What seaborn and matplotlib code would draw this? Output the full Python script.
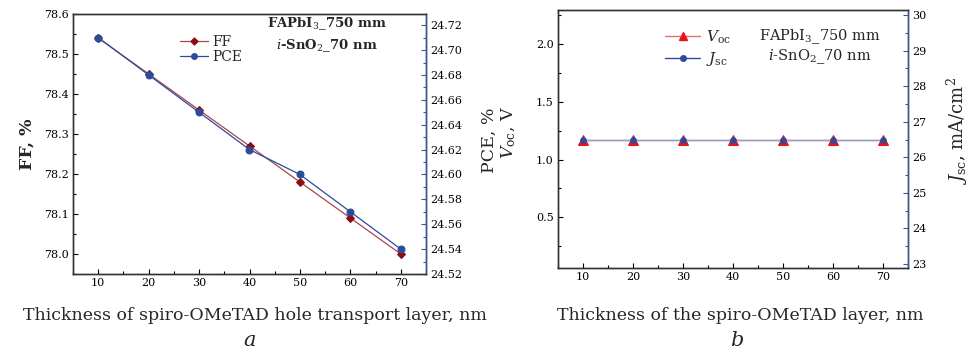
import numpy as np
import pandas as pd
import seaborn as sns
import matplotlib
matplotlib.use("Agg")
import matplotlib.pyplot as plt
from matplotlib.ticker import MultipleLocator, FormatStrFormatter
from matplotlib.lines import Line2D

sns.set_theme(style="ticks")
plt.rcParams['font.family'] = ['DejaVu Serif']
plt.rcParams['mathtext.fontset'] = 'dejavuserif'

thickness = [10, 20, 30, 40, 50, 60, 70]
ff = [78.54, 78.45, 78.36, 78.27, 78.18, 78.09, 78.00]
pce = [24.71, 24.68, 24.65, 24.62, 24.60, 24.57, 24.54]
voc = [1.17, 1.17, 1.17, 1.17, 1.17, 1.17, 1.17]
jsc = [26.5, 26.5, 26.5, 26.5, 26.5, 26.5, 26.5]

df = pd.DataFrame({"t": thickness, "FF": ff, "PCE": pce, "Voc": voc, "Jsc": jsc})

BLUE = "#2b4c9b"
DRED = "#8b0d14"
RED = "#e3141e"
SPINE_BLUE = "#3a55a0"

fig = plt.figure(figsize=(9.69, 3.53), dpi=100)
axA = fig.add_axes([73 / 969, 1 - 274 / 353, 353 / 969, 260 / 353])
axB = fig.add_axes([558 / 969, 1 - 268 / 353, 350 / 969, 258 / 353])

def style_ax(ax):
    ax.tick_params(direction="in", which="both", labelsize=8, length=3.5, width=0.8,
                   colors="black", pad=3)
    ax.tick_params(which="minor", length=2)
    for s in ax.spines.values():
        s.set_linewidth(1.0)
        s.set_color("#333333")

# Panel a
sns.lineplot(data=df, x="t", y="FF", ax=axA, color="#a84848", linewidth=0.9,
             marker="D", markersize=4.5, markerfacecolor=DRED, markeredgecolor=DRED, zorder=3)
axA2 = axA.twinx()
sns.lineplot(data=df, x="t", y="PCE", ax=axA2, color=BLUE, linewidth=0.9,
             marker="o", markersize=5, markerfacecolor=BLUE, markeredgecolor=BLUE, zorder=2)
axA.set_xlim(5, 75)
axA.set_ylim(77.95, 78.6)
axA2.set_ylim(24.52, 24.729)
axA.xaxis.set_major_locator(MultipleLocator(10))
axA.xaxis.set_minor_locator(MultipleLocator(5))
axA.yaxis.set_major_locator(MultipleLocator(0.1))
axA.yaxis.set_minor_locator(MultipleLocator(0.05))
axA.yaxis.set_major_formatter(FormatStrFormatter("%.1f"))
axA2.yaxis.set_major_locator(MultipleLocator(0.02))
axA2.yaxis.set_minor_locator(MultipleLocator(0.01))
axA2.yaxis.set_major_formatter(FormatStrFormatter("%.2f"))
style_ax(axA)
style_ax(axA2)
axA2.spines["right"].set_color(SPINE_BLUE)
axA2.tick_params(axis="y", which="both", color=SPINE_BLUE)
axA.set_xlabel("")
axA.set_ylabel("FF, %", fontsize=12.5, fontweight="bold", labelpad=6)
axA2.set_ylabel("")
axA.text(0.72, 0.962, "FAPbI$_3$_750 mm", transform=axA.transAxes, ha="center",
         va="center", fontsize=9.5, fontweight="bold")
axA.text(0.72, 0.88, "$i$-SnO$_2$_70 nm", transform=axA.transAxes, ha="center",
         va="center", fontsize=9.5, fontweight="bold")
hA = [Line2D([], [], color="#a84848", lw=0.9, marker="D", ms=3.5, mfc=DRED, mec=DRED),
      Line2D([], [], color=BLUE, lw=0.9, marker="o", ms=4, mfc=BLUE, mec=BLUE)]
axA.legend(hA, ["FF", "PCE"], loc="center left", bbox_to_anchor=(0.303, 0.863),
           frameon=False, fontsize=10, handlelength=2.0, handletextpad=0.3,
           labelspacing=0.1, borderpad=0.0, borderaxespad=0.0)
if axA2.get_legend():
    axA2.get_legend().remove()
fig.text(255 / 969, 1 - 316 / 353, "Thickness of spiro-OMeTAD hole transport layer, nm",
         ha="center", va="center", fontsize=12.5)
fig.text(250 / 969, 1 - 341 / 353, "a", ha="center", va="center", fontsize=15, style="italic")

# Panel b
sns.lineplot(data=df, x="t", y="Voc", ax=axB, color="#e07070", linewidth=1.0,
             marker="^", markersize=7.5, markerfacecolor=RED, markeredgecolor=RED, zorder=2)
axB2 = axB.twinx()
sns.lineplot(data=df, x="t", y="Jsc", ax=axB2, color="#8fa3cf", linewidth=1.0,
             marker="o", markersize=4, markerfacecolor=BLUE, markeredgecolor=BLUE, zorder=3)
axB.set_xlim(5, 75)
axB.set_ylim(0.06, 2.297)
axB2.set_ylim(22.89, 30.14)
axB.xaxis.set_major_locator(MultipleLocator(10))
axB.xaxis.set_minor_locator(MultipleLocator(5))
axB.yaxis.set_major_locator(MultipleLocator(0.5))
axB.yaxis.set_minor_locator(MultipleLocator(0.25))
axB.yaxis.set_major_formatter(FormatStrFormatter("%.1f"))
axB2.yaxis.set_major_locator(MultipleLocator(1))
axB2.yaxis.set_minor_locator(MultipleLocator(0.5))
style_ax(axB)
style_ax(axB2)
axB2.spines["right"].set_color(SPINE_BLUE)
axB2.tick_params(axis="y", which="both", color=SPINE_BLUE)
axB.set_xlabel("")
axB.set_ylabel("")
axB2.set_ylabel("")
fig.text(489 / 969, 1 - 140 / 353, "PCE, %", rotation=90, ha="center", va="center", fontsize=12.5)
fig.text(509 / 969, 1 - 133 / 353, "$V_{\\mathrm{oc}}$, V", rotation=90, ha="center",
         va="center", fontsize=12.5)
fig.text(957 / 969, 1 - 131 / 353, "$J_{\\mathrm{sc}}$, mA/cm$^2$", rotation=90, ha="center",
         va="center", fontsize=13)
axB.text(0.749, 0.895, "FAPbI$_3$_750 mm", transform=axB.transAxes, ha="center",
         va="center", fontsize=10.5)
axB.text(0.749, 0.818, "$i$-SnO$_2$_70 nm", transform=axB.transAxes, ha="center",
         va="center", fontsize=10.5)
hB = [Line2D([], [], color="#e07070", lw=1.0, marker="^", ms=6, mfc=RED, mec=RED),
      Line2D([], [], color=BLUE, lw=1.0, marker="o", ms=4, mfc=BLUE, mec=BLUE)]
axB.legend(hB, ["$V_{\\mathrm{oc}}$", "$J_{\\mathrm{sc}}$"], loc="center left",
           bbox_to_anchor=(0.306, 0.851), frameon=False, fontsize=11, handlelength=2.3,
           handletextpad=0.4, labelspacing=0.3, borderpad=0.0, borderaxespad=0.0)
if axB2.get_legend():
    axB2.get_legend().remove()
fig.text(740 / 969, 1 - 316 / 353, "Thickness of the spiro-OMeTAD layer, nm",
         ha="center", va="center", fontsize=12.5)
fig.text(737 / 969, 1 - 341 / 353, "b", ha="center", va="center", fontsize=15, style="italic")

fig.savefig("out.png", dpi=100)
